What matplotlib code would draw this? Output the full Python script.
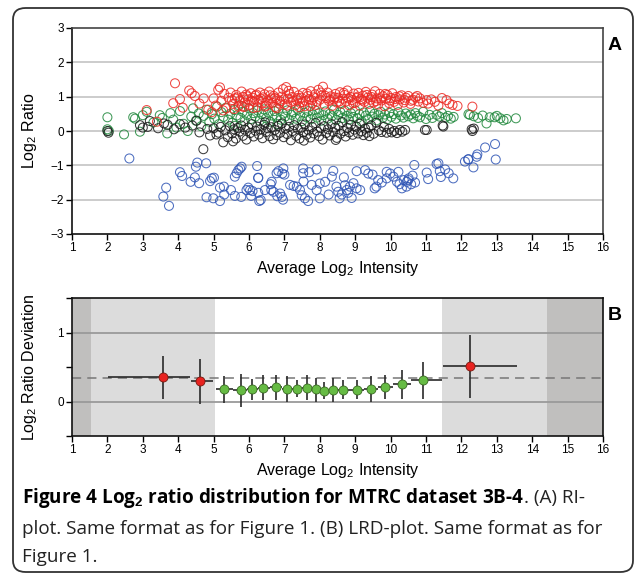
import numpy as np
import matplotlib
matplotlib.use('Agg')
import matplotlib.pyplot as plt
from matplotlib.patches import FancyBboxPatch

plt.rcParams['font.family'] = ['Liberation Sans', 'DejaVu Sans']
plt.rcParams['mathtext.fontset'] = 'custom'
plt.rcParams['mathtext.rm'] = 'Liberation Sans'
plt.rcParams['mathtext.bf'] = 'Liberation Sans:bold'

# ---- panel A: RI-plot (average log2 intensity vs log2 ratio) ----
red_x = [3.11, 3.40, 3.86, 3.91, 4.05, 4.13, 4.31, 4.38, 4.47, 4.60,
         4.72, 4.85, 5.00, 5.06, 5.13, 5.18, 5.22, 5.30, 5.36, 5.42,
         5.48, 5.55, 5.60, 5.64, 5.70, 5.74, 5.79, 5.83, 5.88, 5.92,
         5.97, 6.01, 6.05, 6.10, 6.14, 6.18, 6.23, 6.27, 6.31, 6.36,
         6.40, 6.44, 6.49, 6.53, 6.57, 6.62, 6.66, 6.70, 6.75, 6.79,
         6.83, 6.88, 6.92, 6.96, 7.01, 7.05, 7.09, 7.14, 7.18, 7.22,
         7.27, 7.31, 7.35, 7.40, 7.44, 7.48, 7.53, 7.57, 7.61, 7.66,
         7.70, 7.74, 7.79, 7.83, 7.87, 7.92, 7.96, 8.00, 8.05, 8.09,
         8.13, 8.18, 8.22, 8.26, 8.31, 8.35, 8.39, 8.44, 8.48, 8.52,
         8.57, 8.61, 8.65, 8.70, 8.74, 8.78, 8.83, 8.87, 8.91, 8.96,
         9.00, 9.04, 9.09, 9.13, 9.17, 9.22, 9.26, 9.30, 9.35, 9.39,
         9.43, 9.48, 9.52, 9.56, 9.61, 9.65, 9.69, 9.74, 9.78, 9.83,
         9.87, 9.91, 9.96, 10.00, 10.05, 10.10, 10.15, 10.20, 10.26, 10.31,
         10.37, 10.43, 10.50, 10.56, 10.63, 10.70, 10.78, 10.83, 10.92, 11.02,
         11.06, 11.15, 11.25, 11.35, 11.45, 11.58, 11.66, 11.75, 11.89, 12.31,
         5.52, 5.67, 5.81, 5.95, 6.08, 6.21, 6.34, 6.47, 6.60, 6.73,
         6.86, 6.99, 7.12, 7.25, 7.38, 7.51, 7.64, 7.77, 7.90, 8.03,
         8.16, 8.29, 8.42, 8.55, 8.68, 8.81, 8.94, 9.07, 9.20, 9.33,
         9.46, 9.59, 9.72, 9.85, 9.98, 10.12, 10.25, 10.40, 10.58, 10.75,
         4.95, 5.27, 5.58, 5.86, 6.12, 6.45, 6.78, 7.08, 7.42, 7.73]
red_y = [0.61, 0.27, 0.81, 1.39, 0.93, 0.68, 1.18, 1.10, 1.02, 0.80,
         0.95, 0.62, 0.95, 0.74, 1.20, 1.27, 0.88, 1.08, 0.66, 0.97,
         1.12, 0.79, 0.95, 1.05, 0.71, 0.88, 1.15, 0.99, 0.83, 1.06,
         0.92, 0.76, 1.10, 0.97, 0.85, 1.03, 0.69, 0.91, 1.12, 0.80,
         0.98, 1.07, 0.74, 0.89, 1.15, 0.95, 0.82, 1.02, 0.70, 0.93,
         1.12, 0.86, 1.00, 1.22, 0.78, 1.28, 0.94, 1.08, 0.84, 0.99,
         1.14, 0.75, 0.90, 1.04, 0.82, 0.97, 1.11, 0.72, 0.88, 1.02,
         0.93, 1.16, 0.80, 0.98, 1.07, 0.85, 1.20, 0.91, 1.03, 1.29,
         0.77, 0.96, 1.12, 0.87, 1.01, 0.73, 0.92, 1.08, 0.83, 0.97,
         1.13, 0.79, 0.94, 1.05, 0.86, 1.18, 0.75, 0.99, 0.90, 1.09,
         0.82, 0.96, 1.11, 0.74, 0.93, 1.03, 0.85, 1.14, 0.97, 0.79,
         0.91, 1.06, 0.83, 1.16, 0.95, 0.77, 1.08, 0.89, 1.01, 0.72,
         0.94, 1.05, 0.81, 0.96, 1.10, 0.85, 0.99, 0.76, 0.92, 1.04,
         0.83, 0.97, 1.02, 0.79, 0.91, 0.98, 0.86, 0.95, 0.82, 0.90,
         0.80, 0.92, 0.85, 0.74, 0.96, 0.90, 0.80, 0.76, 0.73, 0.71,
         0.90, 0.98, 0.72, 1.01, 0.88, 1.06, 0.94, 0.82, 1.04, 0.96,
         0.80, 0.92, 1.17, 0.88, 0.96, 0.84, 1.09, 0.90, 0.76, 1.12,
         1.02, 0.91, 0.98, 0.86, 1.11, 0.95, 0.81, 1.00, 0.89, 1.05,
         0.99, 0.87, 0.95, 1.08, 0.89, 0.93, 1.01, 0.90, 0.88, 1.02,
         0.55, 0.60, 0.64, 0.70, 0.67, 0.71, 0.66, 0.74, 0.69, 0.73]

green_x = [2.00, 2.00, 2.04, 2.47, 2.73, 2.78, 2.92, 3.00, 3.11, 3.30,
           3.48, 3.55, 3.69, 3.78, 3.86, 3.95, 4.05, 4.15, 4.27, 4.37,
           4.42, 4.50, 4.58, 4.65, 4.72, 4.80, 4.88, 4.95, 5.02, 5.10,
           5.15, 5.22, 5.28, 5.35, 5.41, 5.47, 5.53, 5.59, 5.65, 5.71,
           5.76, 5.82, 5.88, 5.94, 6.00, 6.06, 6.12, 6.18, 6.24, 6.30,
           6.36, 6.42, 6.48, 6.54, 6.60, 6.66, 6.72, 6.78, 6.84, 6.90,
           6.96, 7.02, 7.08, 7.14, 7.20, 7.26, 7.32, 7.38, 7.44, 7.50,
           7.56, 7.62, 7.68, 7.74, 7.80, 7.86, 7.92, 7.98, 8.04, 8.10,
           8.16, 8.22, 8.28, 8.34, 8.40, 8.46, 8.52, 8.58, 8.64, 8.70,
           8.76, 8.82, 8.88, 8.94, 9.00, 9.06, 9.12, 9.18, 9.24, 9.30,
           9.36, 9.42, 9.48, 9.54, 9.60, 9.66, 9.72, 9.78, 9.84, 9.90,
           9.96, 10.02, 10.08, 10.15, 10.22, 10.29, 10.36, 10.43, 10.50, 10.57,
           10.64, 10.70, 10.76, 10.83, 10.92, 11.00, 11.10, 11.18, 11.30, 11.38,
           11.45, 11.55, 11.62, 11.70, 11.78, 12.20, 12.24, 12.35, 12.47, 12.60,
           12.71, 12.80, 12.94, 13.00, 13.10, 13.19, 13.28, 13.54, 5.60, 6.80]
green_y = [0.40, 0.05, 0.00, -0.10, 0.40, 0.36, -0.02, 0.46, 0.56, 0.25,
           0.46, 0.38, -0.07, 0.52, 0.33, 0.10, 0.58, 0.21, 0.00, 0.42,
           0.66, 0.30, 0.51, 0.14, 0.44, 0.62, 0.27, 0.49, 0.36, 0.71,
           0.20, 0.55, 0.41, 0.68, 0.33, 0.50, 0.24, 0.61, 0.45, 0.75,
           0.38, 0.56, 0.28, 0.47, 0.66, 0.35, 0.52, 0.42, 0.60, 0.30,
           0.49, 0.63, 0.37, 0.54, 0.27, 0.45, 0.58, 0.40, 0.65, 0.33,
           0.51, 0.42, 0.60, 0.31, 0.47, 0.55, 0.36, 0.62, 0.44, 0.29,
           0.53, 0.40, 0.58, 0.34, 0.48, 0.61, 0.39, 0.52, 0.30, 0.46,
           0.57, 0.36, 0.50, 0.43, 0.62, 0.32, 0.47, 0.55, 0.38, 0.59,
           0.44, 0.33, 0.52, 0.41, 0.60, 0.37, 0.49, 0.28, 0.54, 0.45,
           0.35, 0.58, 0.42, 0.50, 0.31, 0.46, 0.56, 0.39, 0.48, 0.34,
           0.53, 0.41, 0.49, 0.36, 0.55, 0.45, 0.39, 0.51, 0.43, 0.48,
           0.37, 0.52, 0.44, 0.40, 0.56, 0.35, 0.47, 0.38, 0.47, 0.42,
           0.52, 0.39, 0.44, 0.36, 0.41, 0.49, 0.47, 0.43, 0.38, 0.45,
           0.22, 0.40, 0.40, 0.44, 0.37, 0.31, 0.35, 0.37, 0.15, 0.20]

black_x = [2.00, 2.03, 2.92, 3.00, 3.14, 3.20, 3.43, 3.60, 3.70, 3.88,
           4.05, 4.20, 4.40, 4.52, 4.60, 4.71, 4.82, 4.90, 5.00, 5.08,
           5.14, 5.20, 5.27, 5.33, 5.40, 5.46, 5.52, 5.58, 5.63, 5.68,
           5.73, 5.78, 5.83, 5.88, 5.93, 5.98, 6.03, 6.08, 6.13, 6.18,
           6.23, 6.28, 6.33, 6.38, 6.43, 6.48, 6.53, 6.58, 6.63, 6.68,
           6.73, 6.78, 6.83, 6.88, 6.93, 6.98, 7.03, 7.08, 7.13, 7.18,
           7.23, 7.28, 7.33, 7.38, 7.43, 7.48, 7.53, 7.58, 7.63, 7.68,
           7.73, 7.78, 7.83, 7.88, 7.93, 7.98, 8.03, 8.08, 8.13, 8.18,
           8.23, 8.28, 8.33, 8.38, 8.43, 8.48, 8.53, 8.58, 8.63, 8.68,
           8.73, 8.78, 8.83, 8.88, 8.93, 8.98, 9.03, 9.08, 9.13, 9.18,
           9.23, 9.28, 9.33, 9.38, 9.45, 9.52, 9.60, 9.67, 9.74, 9.81,
           9.89, 9.96, 10.03, 10.10, 10.18, 10.26, 10.33, 10.41, 10.97, 11.02,
           11.47, 11.49, 12.29, 12.31, 12.35, 5.55, 6.45, 7.55, 8.45, 9.40]
black_y = [0.00, -0.05, 0.17, 0.10, 0.12, 0.29, 0.08, 0.22, 0.18, 0.05,
           0.20, 0.10, 0.16, 0.30, -0.04, -0.53, 0.06, -0.13, 0.08, -0.10,
           -0.05, 0.12, -0.33, 0.02, -0.18, 0.14, -0.07, 0.05, -0.22, 0.09,
           -0.02, 0.16, -0.14, 0.04, -0.25, 0.10, -0.06, 0.20, -0.16, 0.01,
           0.13, -0.10, 0.05, -0.21, 0.18, -0.03, 0.08, -0.15, 0.11, -0.24,
           0.03, -0.12, 0.15, -0.05, 0.22, -0.18, 0.07, -0.09, 0.12, -0.27,
           0.00, 0.17, -0.14, 0.06, -0.22, 0.10, -0.04, 0.19, -0.11, 0.02,
           -0.19, 0.12, -0.07, 0.23, -0.02, -0.15, 0.08, -0.25, 0.14, -0.06,
           0.05, -0.13, 0.20, -0.03, 0.10, -0.20, 0.15, -0.08, 0.26, 0.00,
           -0.16, 0.09, -0.04, 0.18, -0.11, 0.04, 0.13, -0.07, 0.21, -0.01,
           -0.12, 0.07, -0.05, 0.10, 0.16, -0.08, 0.24, 0.02, -0.03, 0.12,
           -0.05, 0.06, -0.04, 0.00, -0.06, 0.03, -0.02, 0.03, 0.03, 0.03,
           0.16, 0.13, 0.05, 0.00, 0.07, -0.30, 0.25, -0.28, -0.26, -0.15]

blue_x = [2.62, 3.58, 3.66, 3.74, 4.05, 4.11, 4.35, 4.47, 4.50, 4.54,
          4.59, 4.79, 4.80, 4.90, 4.95, 4.99, 5.01, 5.18, 5.18, 5.29,
          5.30, 5.49, 5.60, 5.65, 5.70, 5.78, 5.79, 5.93, 5.98, 6.03,
          6.06, 6.10, 6.23, 6.26, 6.26, 6.29, 6.33, 6.45, 6.61, 6.63,
          6.64, 6.69, 6.78, 6.83, 6.88, 6.93, 6.94, 6.96, 6.97, 7.00,
          7.16, 7.26, 7.44, 7.49, 7.53, 7.53, 7.54, 7.58, 7.67, 7.77,
          7.91, 7.91, 8.00, 8.00, 8.15, 8.34, 8.38, 8.47, 8.52, 8.56,
          8.68, 8.71, 8.76, 8.85, 8.95, 9.04, 9.04, 9.14, 9.28, 9.37,
          9.49, 9.55, 9.60, 9.65, 9.89, 9.89, 9.99, 10.08, 10.18, 10.22,
          10.32, 10.37, 10.46, 10.50, 10.51, 10.58, 10.62, 10.67, 10.69, 11.02,
          11.06, 11.30, 11.35, 11.39, 11.42, 11.54, 11.64, 11.77, 12.10, 12.19,
          12.20, 12.34, 12.43, 12.45, 12.67, 12.95, 12.97, 8.62, 8.80, 10.25,
          5.60, 5.75, 6.26, 6.80, 7.35, 7.70, 8.25, 8.90, 9.75, 10.45]
blue_y = [-0.80, -1.91, -1.65, -2.18, -1.20, -1.31, -1.48, -1.35, -1.04, -0.92,
          -1.52, -0.94, -1.93, -1.46, -1.38, -1.96, -1.36, -2.04, -1.65, -1.62,
          -1.85, -1.72, -1.89, -1.23, -1.14, -1.92, -1.04, -1.72, -1.65, -1.72,
          -1.89, -1.75, -1.02, -1.36, -1.80, -2.04, -2.01, -1.72, -1.55, -1.72,
          -1.48, -1.77, -1.23, -1.17, -1.82, -1.92, -1.24, -2.00, -1.09, -1.27,
          -1.57, -1.60, -1.72, -1.87, -1.09, -1.23, -1.47, -1.96, -2.04, -1.57,
          -1.12, -1.72, -1.96, -1.53, -1.48, -1.33, -1.16, -1.62, -1.77, -1.96,
          -1.35, -1.58, -1.72, -1.62, -1.52, -1.67, -1.17, -1.72, -1.14, -1.24,
          -1.27, -1.67, -1.62, -1.43, -1.19, -1.38, -1.24, -1.33, -1.48, -1.19,
          -1.67, -1.43, -1.48, -1.43, -1.38, -1.55, -1.30, -0.99, -1.50, -1.21,
          -1.40, -0.96, -0.94, -1.17, -1.34, -1.12, -1.23, -1.38, -0.89, -0.83,
          -0.82, -1.06, -0.75, -0.68, -0.48, -0.38, -0.83, -1.85, -1.80, -1.55,
          -1.33, -1.09, -1.37, -1.90, -1.62, -1.20, -1.85, -1.95, -1.50, -1.62]

# ---- panel B: LRD-plot ----
ok_x = [5.29, 5.77, 6.09, 6.39, 6.76, 7.06, 7.37, 7.63, 7.89,
        8.12, 8.38, 8.66, 9.04, 9.45, 9.84, 10.31, 10.92]
ok_y = [0.18, 0.17, 0.18, 0.20, 0.21, 0.18, 0.18, 0.20, 0.18,
        0.15, 0.16, 0.17, 0.16, 0.18, 0.21, 0.25, 0.31]
ok_lo = [-0.02, -0.08, 0.02, 0.02, 0.02, 0.00, 0.06, 0.02, -0.01,
         0.03, 0.00, 0.04, 0.03, -0.01, 0.03, 0.03, 0.04]
ok_hi = [0.37, 0.40, 0.32, 0.38, 0.39, 0.37, 0.31, 0.38, 0.34,
         0.28, 0.34, 0.31, 0.31, 0.37, 0.38, 0.45, 0.57]
ok_left = [5.07, 5.55, 5.95, 6.25, 6.58, 6.92, 7.22, 7.50, 7.76,
           8.00, 8.25, 8.52, 8.85, 9.25, 9.65, 10.08, 10.59]
ok_right = [5.55, 5.95, 6.25, 6.58, 6.92, 7.22, 7.50, 7.76, 8.00,
            8.25, 8.52, 8.85, 9.25, 9.65, 10.08, 10.59, 11.46]

bad_x = [3.57, 4.62, 12.24]
bad_y = [0.35, 0.30, 0.52]
bad_lo = [0.04, -0.03, 0.05]
bad_hi = [0.66, 0.61, 0.97]
bad_left = [2.03, 4.35, 11.47]
bad_right = [4.33, 4.99, 13.56]

ref_level = 0.34
outer_zones = [(1.0, 1.53), (14.42, 16.0)]
inner_zones = [(1.53, 5.03), (11.44, 14.42)]

W, H = 634, 574
fig = plt.figure(figsize=(W / 100, H / 100), dpi=100)


def fx(px):
    return px / W


def fy(py):
    return 1 - py / H


# rounded frame round the whole figure
frame = FancyBboxPatch((fx(13), fy(572)), fx(620), 564 / H,
                       boxstyle='round,pad=0,rounding_size=0.02',
                       transform=fig.transFigure, fill=False,
                       ec='#333333', lw=1.3)
fig.patches.append(frame)

axA = fig.add_axes([fx(72), fy(234), fx(531), 206 / H])
for y in [-2, -1, 0, 1, 2]:
    axA.axhline(y, color='#c8c8c8', lw=1.3, zorder=0)
kw = dict(s=42, facecolors='none', linewidths=0.75, alpha=0.85)
axA.scatter(blue_x, blue_y, edgecolors='#2f55b5', **kw)
axA.scatter(green_x, green_y, edgecolors='#20883c', **kw)
axA.scatter(black_x, black_y, edgecolors='#1a1a1a', **kw)
axA.scatter(red_x, red_y, edgecolors='#ec2a24', **kw)
axA.set_xlim(1, 16)
axA.set_ylim(-3, 3)
axA.set_xticks(range(1, 17))
axA.set_yticks(range(-3, 4))
axA.set_xlabel('Average Log$_2$ Intensity', fontsize=11.5, labelpad=3)
axA.set_ylabel('Log$_2$ Ratio', fontsize=11.5)
axA.yaxis.set_label_coords(-0.062, 0.5)
axA.tick_params(labelsize=8.5, length=4, width=1, direction='out', pad=2)
axA.tick_params(top=False, right=False)
for s in ['left', 'bottom']:
    axA.spines[s].set_color('#111111')
    axA.spines[s].set_linewidth(1.2)
for s in ['top', 'right']:
    axA.spines[s].set_color('#444444')
    axA.spines[s].set_linewidth(1.2)

axB = fig.add_axes([fx(72), fy(436), fx(531), 138 / H])
for a, b in outer_zones:
    axB.axvspan(a, b, color='#c0bfbe', lw=0, zorder=0)
for a, b in inner_zones:
    axB.axvspan(a, b, color='#dcdcdc', lw=0, zorder=0)
axB.axhline(0, color='#9a9a9a', lw=1.3, zorder=1)
axB.axhline(1, color='#9a9a9a', lw=1.3, zorder=1)
axB.axhline(ref_level, color='#777777', lw=1.1, ls=(0, (6, 4)), zorder=1)

ok_x = np.array(ok_x)
ok_y = np.array(ok_y)
bad_x = np.array(bad_x)
bad_y = np.array(bad_y)
axB.errorbar(ok_x, ok_y,
             yerr=[ok_y - np.array(ok_lo), np.array(ok_hi) - ok_y],
             xerr=[ok_x - np.array(ok_left), np.array(ok_right) - ok_x],
             fmt='o', ms=6.5, mfc='#66bb44', mec='#3a6a22', mew=0.6,
             ecolor='#2a2a2a', elinewidth=1.2, capsize=0, zorder=3)
axB.errorbar(bad_x, bad_y,
             yerr=[bad_y - np.array(bad_lo), np.array(bad_hi) - bad_y],
             xerr=[bad_x - np.array(bad_left), np.array(bad_right) - bad_x],
             fmt='o', ms=6.5, mfc='#e82320', mec='#7a1a10', mew=0.6,
             ecolor='#2a2a2a', elinewidth=1.2, capsize=0, zorder=3)
axB.set_xlim(1, 16)
axB.set_ylim(-0.5, 1.5)
axB.set_xticks(range(1, 17))
axB.set_yticks([-0.5, 0, 0.5, 1, 1.5])
axB.set_yticklabels(['', '0', '', '1', ''])
axB.set_xlabel('Average Log$_2$ Intensity', fontsize=11.5, labelpad=3)
axB.set_ylabel('Log$_2$ Ratio Deviation', fontsize=11.5)
axB.yaxis.set_label_coords(-0.062, 0.5)
axB.tick_params(labelsize=8.5, length=4, width=1, direction='out', pad=2)
for s in axB.spines.values():
    s.set_color('#111111')
    s.set_linewidth(1.2)

fig.text(fx(608), fy(45), 'A', fontsize=14, fontweight='bold', va='center')
fig.text(fx(608), fy(316), 'B', fontsize=14, fontweight='bold', va='center')

# caption
cap = dict(family=['Open Sans', 'DejaVu Sans'], fontsize=13.6, va='baseline')
r = fig.canvas.get_renderer()
t1 = fig.text(fx(22), fy(503),
              r'Figure 4 Log$_\mathbf{2}$ ratio distribution for MTRC dataset 3B-4',
              fontweight='bold', **cap)
bb = t1.get_window_extent(renderer=r)
fig.text(bb.x1 / W, fy(503), '. (A) RI-', color='#222222', **cap)
fig.text(fx(22), fy(534),
         'plot. Same format as for Figure 1. (B) LRD-plot. Same format as for',
         color='#222222', **cap)
fig.text(fx(22), fy(562), 'Figure 1.', color='#222222', **cap)

fig.savefig('out.png', dpi=100)
